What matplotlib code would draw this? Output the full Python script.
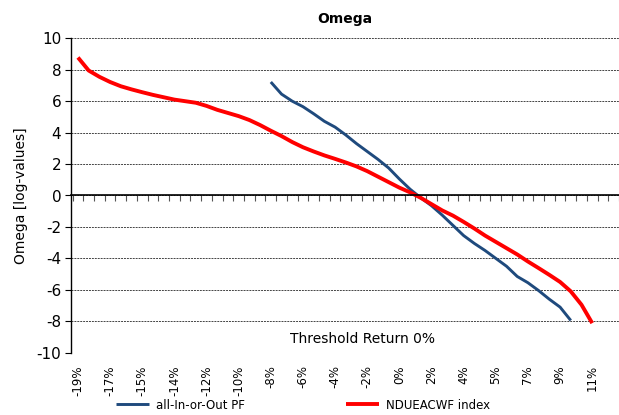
import numpy as np
import matplotlib
matplotlib.use("Agg")
import matplotlib.pyplot as plt

plt.rcParams["axes.unicode_minus"] = False

# Omega of the two series, one value per threshold return (log-values)
tick_labels = ["-19%", "-17%", "-15%", "-14%", "-12%", "-10%", "-8%", "-6%", "-4%",
               "-2%", "0%", "2%", "4%", "5%", "7%", "9%", "11%"]
label_step = 3

index_omega = [8.78, 7.95, 7.55, 7.22, 6.95, 6.75, 6.57, 6.40, 6.25, 6.10,
               6.00, 5.90, 5.70, 5.45, 5.25, 5.05, 4.80, 4.48, 4.12, 3.78,
               3.40, 3.07, 2.80, 2.55, 2.33, 2.10, 1.85, 1.55, 1.20, 0.85,
               0.50, 0.20, -0.15, -0.55, -0.95, -1.28, -1.68, -2.10, -2.55, -2.95,
               -3.35, -3.75, -4.20, -4.62, -5.05, -5.50, -6.10, -6.95, -8.12]

pf_omega = [np.nan] * 18 + [7.22, 6.45, 6.00, 5.65, 5.20, 4.72, 4.35, 3.85, 3.30, 2.80,
                            2.30, 1.75, 1.05, 0.40, -0.15, -0.65, -1.25, -1.90, -2.55, -3.05,
                            -3.50, -4.00, -4.50, -5.15, -5.55, -6.05, -6.60, -7.10, -7.95] + [np.nan] * 2

x = np.arange(len(index_omega))

fig = plt.figure(figsize=(6.19, 4.15), dpi=100)
ax = fig.add_axes([71 / 619, 1 - 352.7 / 415, 1 - 71 / 619, (352.7 - 38.3) / 415])

ax.plot(x, pf_omega, color="#1F4A7D", lw=2.1, label="all-In-or-Out PF", solid_capstyle="butt")
ax.plot(x, index_omega, color="#FF0000", lw=2.8, label="NDUEACWF index", solid_capstyle="butt")

ax.set_xlim(-0.65, 50.25)
ax.set_ylim(-10, 10)
ax.set_yticks(np.arange(-10, 11, 2))
ax.tick_params(axis="y", labelsize=11, length=4, width=0.8, pad=3)
ax.yaxis.grid(True, color="#444444", linestyle=(0, (2, 1)), lw=0.7)
ax.set_axisbelow(True)

# x axis crosses at zero, with tick marks between categories
for s in ["top", "right"]:
    ax.spines[s].set_visible(False)
ax.spines["bottom"].set_position(("data", 0))
ax.spines["bottom"].set_linewidth(1.2)
ax.spines["left"].set_linewidth(1.0)
ax.set_xticks(np.arange(-0.5, 51, 1))
ax.tick_params(axis="x", length=4, width=0.8, color="#555555", labelbottom=False)

sec = ax.secondary_xaxis(0.0)
sec.set_xticks(x[::label_step], labels=tick_labels, rotation=90)
sec.tick_params(length=0, labelsize=8.5, pad=9)
sec.spines["bottom"].set_visible(False)

ax.set_title("Omega", fontsize=10, fontweight="bold", pad=11)
ax.set_ylabel("Omega [log-values]", fontsize=10, labelpad=6)
ax.text(0.532, 0.045, "Threshold Return 0%", transform=ax.transAxes,
        ha="center", va="center", fontsize=10)

fig.legend(loc="center", bbox_to_anchor=(303 / 619, 1 - 405 / 415), ncol=2,
           frameon=False, fontsize=8.5, handlelength=2.8, handletextpad=0.6,
           columnspacing=8.5)

plt.savefig("out.png", dpi=100)
